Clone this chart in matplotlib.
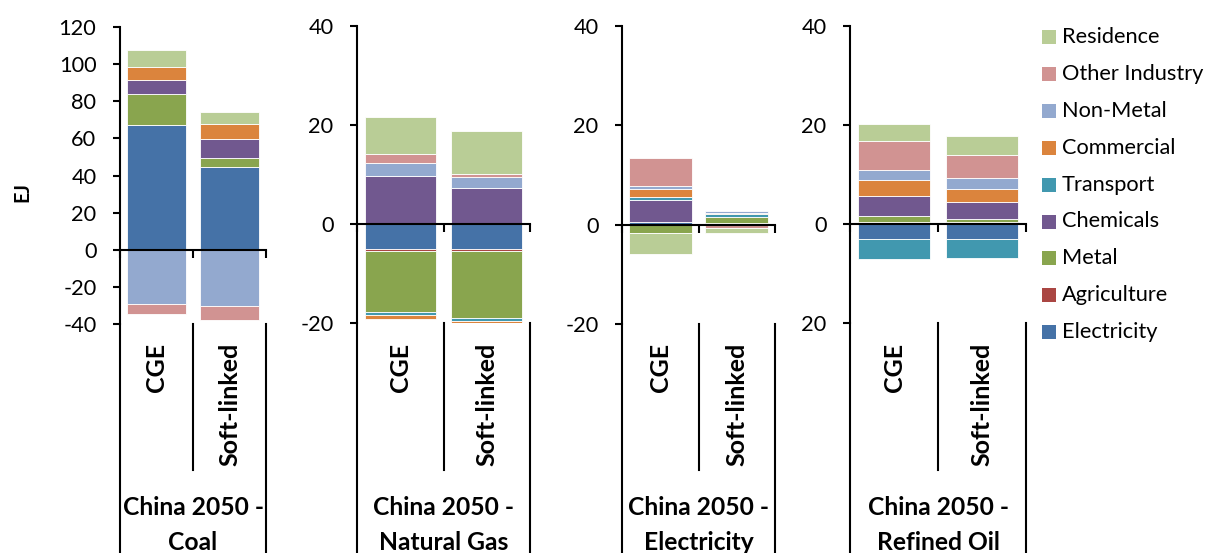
import matplotlib
matplotlib.use('Agg')
import matplotlib.pyplot as plt
from matplotlib.patches import Rectangle
from matplotlib.lines import Line2D
import matplotlib.transforms as mtransforms
import numpy as np

plt.rcParams['axes.unicode_minus'] = False

W, H, DPI = 1205, 553, 100
FONT = 'Lato'

# ---------------- data ----------------
sectors = ['Electricity', 'Agriculture', 'Metal', 'Chemicals', 'Transport',
           'Commercial', 'Non-Metal', 'Other Industry', 'Residence']
colors = ['#4572A7', '#AA4643', '#89A54E', '#71588F', '#4198AF',
          '#DB843D', '#93A9CF', '#D19392', '#B9CD96']
models = ['CGE', 'Soft-linked']
fuels = ['Coal', 'Natural Gas', 'Electricity', 'Refined Oil']
group_prefix = 'China 2050 -'

# bar order: Coal CGE, Coal Soft, Gas CGE, Gas Soft, Elec CGE, Elec Soft, Oil CGE, Oil Soft
electricity    = [67.2, 44.7, -5.0, -5.0, 0.6, 0.4, -3.1, -3.1]
agriculture    = [0.0, 0.0, -0.4, -0.4, 0.0, 0.0, 0.5, 0.5]
metal          = [16.6, 4.7, -12.4, -13.6, -1.6, 1.1, 1.2, 0.6]
chemicals      = [7.9, 10.4, 9.7, 7.2, 4.3, 0.1, 4.0, 3.3]
transport      = [0.0, 0.0, -0.6, -0.5, 0.6, 0.5, -3.9, -3.7]
commercial     = [6.5, 8.1, -0.8, -0.8, 1.6, 0.3, 3.2, 2.6]
non_metal      = [-29.2, -30.1, 2.6, 2.2, 0.6, 0.4, 2.0, 2.2]
other_industry = [-5.4, -7.9, 1.8, 0.8, 5.7, -0.7, 5.8, 4.7]
residence      = [9.5, 6.3, 7.6, 8.5, -4.3, -0.9, 3.6, 3.9]

series = [electricity, agriculture, metal, chemicals, transport,
          commercial, non_metal, other_industry, residence]

y_limits = [(-40, 120), (-20, 40), (-20, 40), (-20, 40)]
y_steps = [20, 20, 20, 20]

# ---------------- layout (pixels) ----------------
panels_px = [(120, 266, 27, 324), (357, 530, 26, 323),
             (622, 775, 26, 324), (850, 1026, 26, 323)]

fig = plt.figure(figsize=(W / DPI, H / DPI), dpi=DPI)
renderer = fig.canvas.get_renderer()


def fx(x):
    return x / W


def fy(y):
    return 1 - y / H


def fit(s, target, **kw):
    t = fig.text(0, 0, s, size=10, **kw)
    w = t.get_window_extent(renderer).width
    t.remove()
    return 10 * target / w


tick_fs = fit('120', 38, family=FONT)
leg_fs = fit('Other Industry', 141, family=FONT)
grp_fs = fit('China 2050 -', 141, family=FONT, weight='bold')
cat_fs = fit('Soft-linked', 124, family=FONT, weight='bold')
ej_fs = fit('EJ', 20, family=FONT, weight='bold')

LW = 1.5
axes = []
for p, (l, r, t, b) in enumerate(panels_px):
    ax = fig.add_axes([fx(l), fy(b), fx(r) - fx(l), fy(t) - fy(b)])
    axes.append(ax)
    x = np.array([0.5, 1.5])
    pos_b = np.zeros(2)
    neg_b = np.zeros(2)
    for s, c in zip(series, colors):
        vals = np.array(s[2 * p:2 * p + 2])
        bottoms = np.where(vals >= 0, pos_b, neg_b)
        ax.bar(x, vals, bottom=bottoms, width=0.82, color=c,
               edgecolor='white', linewidth=0.6, zorder=2)
        pos_b = pos_b + np.where(vals >= 0, vals, 0)
        neg_b = neg_b + np.where(vals < 0, vals, 0)
    lo, hi = y_limits[p]
    ax.set_ylim(lo, hi)
    ax.set_xlim(0, 2)
    ax.set_yticks(np.arange(lo, hi + 1, y_steps[p]))
    ax.set_xticks([0, 1, 2])
    ax.set_xticklabels([])
    for sp in ['top', 'right']:
        ax.spines[sp].set_visible(False)
    ax.spines['bottom'].set_position(('data', 0))
    ax.spines['bottom'].set_zorder(5)
    for sp in ['left', 'bottom']:
        ax.spines[sp].set_linewidth(LW)
    ax.tick_params(axis='y', direction='out', length=5, width=LW, pad=12,
                   labelsize=tick_fs)
    ax.tick_params(axis='x', direction='out', length=6, width=LW)
    for lab in ax.get_yticklabels():
        lab.set_family(FONT)
    ax.patch.set_visible(False)

    # category axis lines below the plot
    for xx, y2 in [(l, H), ((l + r) / 2, 470), (r, H)]:
        fig.add_artist(Line2D([fx(xx), fx(xx)], [fy(b), fy(y2)],
                              transform=fig.transFigure, color='black', lw=LW))
    # model labels
    trans = mtransforms.blended_transform_factory(ax.transData, fig.transFigure)
    for xi, m in zip(x, models):
        ax.text(xi, fy(343), m, transform=trans, rotation=90, ha='center',
                va='top', family=FONT, weight='bold', size=cat_fs, clip_on=False)
    # group labels
    cx = fx((l + r) / 2)
    fig.text(cx, fy(515), group_prefix, ha='center', va='baseline',
             family=FONT, weight='bold', size=grp_fs)
    fig.text(cx, fy(550), fuels[p], ha='center', va='baseline',
             family=FONT, weight='bold', size=grp_fs)

# panel 4 tick labels are cut by the panel's own chart area
clip = mtransforms.Bbox.from_extents(801, 0, W, H)
for lab in axes[3].get_yticklabels():
    lab.set_clip_on(True)
    lab.set_clip_box(clip)

# y label
fig.text(fx(22), fy(192), 'EJ', rotation=90, ha='center', va='center',
         family=FONT, weight='bold', size=ej_fs)

# legend (top entry = last series)
for i, (name, c) in enumerate(zip(sectors[::-1], colors[::-1])):
    yc = 37 + i * 36.9
    fig.add_artist(Rectangle((fx(1042), fy(yc + 7)), fx(14), 14 / H,
                             transform=fig.transFigure, facecolor=c,
                             edgecolor='none'))
    fig.text(fx(1062), fy(yc), name, ha='left', va='center',
             family=FONT, size=leg_fs)

fig.savefig('out.png', dpi=DPI)
